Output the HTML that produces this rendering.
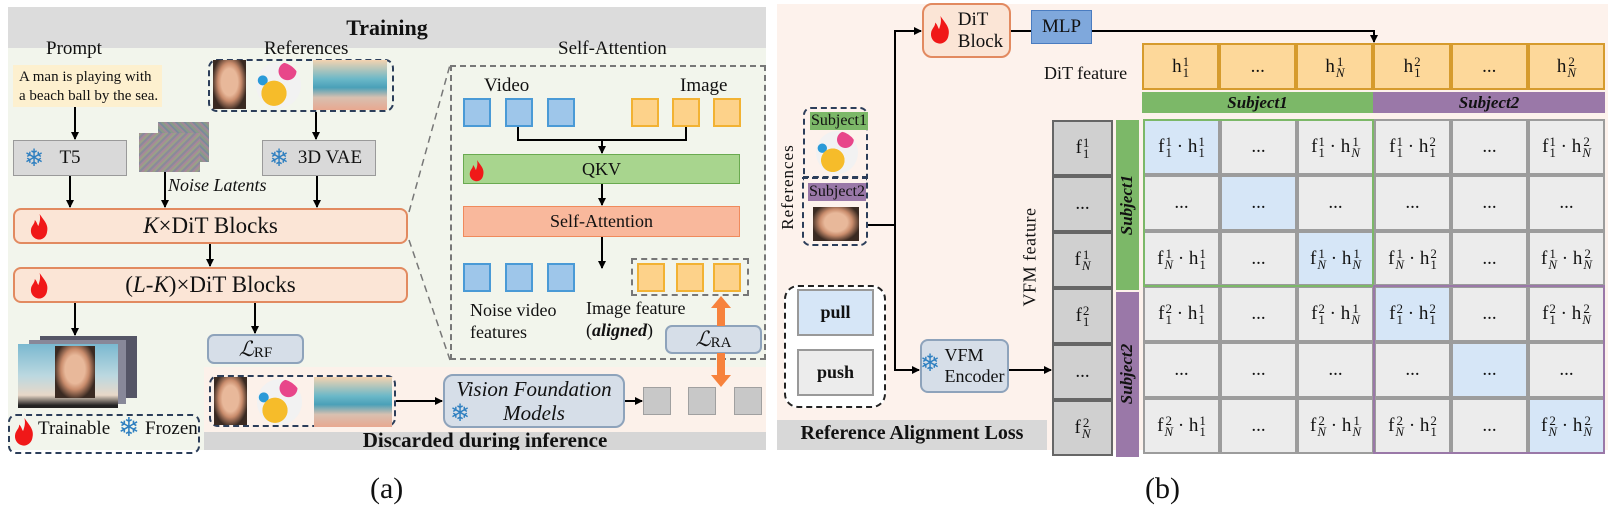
<!DOCTYPE html>
<html><head><meta charset="utf-8">
<style>
body{margin:0;width:1608px;height:518px;background:#fff;position:relative;overflow:hidden;font-family:"Liberation Serif",serif;color:#111}
.a{position:absolute;box-sizing:border-box}
.c{display:flex;align-items:center;justify-content:center;text-align:center}
.gb{background:#d9d9d9;border:1.5px solid #9a9a9a}
.dit{background:#fbe5d6;border:2px solid #e28a60;border-radius:8px}
.lb{background:#d6dee8;border:2px solid #8ea3bb;border-radius:7px}
.vb{background:#9ec6ea;border:2px solid #4a9ad6}
.yb{background:#fdd28a;border:2px solid #f2b233}
.gs{background:#c8c8c8;border:1.5px solid #a0a0a0}
.ix{display:inline-flex;flex-direction:column;font-size:13px;line-height:11px;vertical-align:middle;margin-left:1px}
.m{font-size:19px;white-space:nowrap}
.cell{background:#ececec;border:2px solid #9c9c9c}
.hl{background:#d6e6f7}
.face{background:radial-gradient(ellipse at 50% 45%,#e8b89a 0 35%,#c98c6c 50%,#3a2a22 75%);}
.ball{background:radial-gradient(circle at 40% 68%,#f6bc2a 0 30%,transparent 31%),radial-gradient(circle at 70% 20%,#e8468a 0 18%,transparent 19%),radial-gradient(circle at 15% 40%,#2a9ad8 0 10%,transparent 11%),#f2f2f2;border-radius:50%}
.beach{background:linear-gradient(180deg,#f4d3b0 0,#6bb8c8 38%,#4aa0b8 55%,#d8c0b0 75%,#e8a890 100%)}
.fl{color:#2e7fc0}
</style></head><body>
<!-- Panel (a) -->
<div class="a" style="left:8px;top:7px;width:758px;height:41px;background:#dcdcdc"></div>
<div class="a c" style="left:8px;top:7px;width:758px;height:41px;font-weight:bold;font-size:22px">Training</div>
<div class="a" style="left:8px;top:48px;width:758px;height:402px;background:#f2f5ec"></div>
<div class="a" style="left:204px;top:367px;width:562px;height:65px;background:#fcf1ea"></div>
<div class="a c" style="left:204px;top:432px;width:562px;height:18px;background:#d6d6d6;font-weight:bold;font-size:21px;align-items:flex-start;line-height:18px;overflow:hidden;height:18px"><span style="margin-top:-1px">Discarded during inference</span></div>

<div class="a" style="left:46px;top:38px;font-size:19px">Prompt</div>
<div class="a" style="left:13px;top:65px;width:149px;height:42px;background:#fdf0cf;font-size:15px;line-height:19px;padding:3px 0 0 6px;white-space:nowrap">A man is playing with<br>a beach ball by the sea.</div>
<div class="a gb c" style="left:13px;top:140px;width:114px;height:36px;font-size:19px"><span class="fl" style="position:absolute;left:10px;font-size:24px">❄</span>T5</div>
<div class="a" style="left:158px;top:122px;width:51px;height:40px;background:repeating-linear-gradient(45deg,#8a9a88 0 2px,#a08a98 2px 4px,#7a8a9a 4px 6px)"></div>
<div class="a" style="left:139px;top:133px;width:61px;height:39px;background:repeating-linear-gradient(-45deg,#8a8a9a 0 2px,#9aa088 2px 4px,#a8889a 4px 6px)"></div>
<div class="a" style="left:168px;top:175px;font-size:18px;font-style:italic">Noise Latents</div>
<div class="a" style="left:264px;top:38px;font-size:19px">References</div>
<div class="a" style="left:208px;top:59px;width:186px;height:53px;border:2.5px dashed #2c3e5a;border-radius:9px"></div>
<div class="a face" style="left:213px;top:60px;width:33px;height:49px"></div>
<div class="a ball" style="left:256px;top:62px;width:45px;height:46px"></div>
<div class="a beach" style="left:313px;top:60px;width:74px;height:50px"></div>
<div class="a gb c" style="left:262px;top:140px;width:114px;height:36px;font-size:19px"><span class="fl" style="position:absolute;left:6px;font-size:24px">❄</span><span style="margin-left:22px">3D VAE</span></div>

<div class="a dit c" style="left:13px;top:208px;width:395px;height:36px;font-size:23px"><i>K</i>×DiT Blocks</div>
<div class="a dit c" style="left:13px;top:267px;width:395px;height:36px;font-size:23px">(<i>L</i>-<i>K</i>)×DiT Blocks</div>
<div class="a lb c" style="left:207px;top:334px;width:97px;height:30px;font-size:21px"><i>ℒ</i><sub style="font-size:15px;margin-top:8px">RF</sub></div>

<div class="a" style="left:40px;top:336px;width:97px;height:62px;background:#556;"></div>
<div class="a" style="left:29px;top:340px;width:97px;height:64px;background:#889;"></div>
<div class="a" style="left:18px;top:344px;width:100px;height:64px;background:linear-gradient(180deg,#7ab8d0 0,#bcd8e0 50%,#e8d8c8 80%,#222 96%)"></div>
<div class="a face" style="left:55px;top:346px;width:40px;height:52px"></div>

<div class="a" style="left:8px;top:414px;width:192px;height:40px;border:2.5px dashed #2c3e5a;border-radius:8px"></div>
<div class="a" style="left:38px;top:418px;font-size:19px">Trainable</div>
<div class="a fl" style="left:118px;top:413px;font-size:26px">❄</div>
<div class="a" style="left:145px;top:418px;font-size:19px">Frozen</div>

<div class="a" style="left:558px;top:38px;font-size:19px">Self-Attention</div>
<div class="a" style="left:450px;top:65px;width:316px;height:295px;border:2px dashed #777"></div>
<div class="a" style="left:484px;top:75px;font-size:19px">Video</div>
<div class="a" style="left:680px;top:75px;font-size:19px">Image</div>
<div class="a vb" style="left:463px;top:98px;width:28px;height:29px"></div>
<div class="a vb" style="left:505px;top:98px;width:28px;height:29px"></div>
<div class="a vb" style="left:547px;top:98px;width:28px;height:29px"></div>
<div class="a yb" style="left:631px;top:98px;width:28px;height:29px"></div>
<div class="a yb" style="left:672px;top:98px;width:28px;height:29px"></div>
<div class="a yb" style="left:713px;top:98px;width:28px;height:29px"></div>
<div class="a c" style="left:463px;top:154px;width:277px;height:30px;background:#a8d58e;border:1.5px solid #6aaa50;font-size:18px">QKV</div>
<div class="a c" style="left:463px;top:206px;width:277px;height:31px;background:#f9b89c;border:1.5px solid #f08a5c;font-size:18px">Self-Attention</div>
<div class="a vb" style="left:463px;top:263px;width:28px;height:29px"></div>
<div class="a vb" style="left:505px;top:263px;width:28px;height:29px"></div>
<div class="a vb" style="left:547px;top:263px;width:28px;height:29px"></div>
<div class="a" style="left:631px;top:258px;width:118px;height:38px;border:2px dashed #777"></div>
<div class="a yb" style="left:637px;top:263px;width:28px;height:29px"></div>
<div class="a yb" style="left:676px;top:263px;width:28px;height:29px"></div>
<div class="a yb" style="left:713px;top:263px;width:28px;height:29px"></div>
<div class="a" style="left:470px;top:299px;font-size:18px;line-height:22px">Noise video<br>features</div>
<div class="a" style="left:586px;top:297px;font-size:18px;line-height:22px">Image feature<br>(<b><i>aligned</i></b>)</div>
<div class="a lb c" style="left:665px;top:325px;width:97px;height:29px;font-size:21px"><i>ℒ</i><sub style="font-size:15px;margin-top:8px">RA</sub></div>

<div class="a" style="left:209px;top:375px;width:187px;height:52px;border:2.5px dashed #2c3e5a;border-radius:9px"></div>
<div class="a face" style="left:214px;top:377px;width:33px;height:48px"></div>
<div class="a ball" style="left:257px;top:379px;width:45px;height:46px"></div>
<div class="a beach" style="left:314px;top:377px;width:78px;height:50px"></div>
<div class="a lb c" style="left:443px;top:374px;width:182px;height:54px;font-size:21px;font-style:italic;line-height:24px;border-radius:10px">Vision Foundation<br>Models</div>
<div class="a fl" style="left:450px;top:399px;font-size:24px">❄</div>
<div class="a gs" style="left:643px;top:387px;width:28px;height:28px"></div>
<div class="a gs" style="left:688px;top:387px;width:28px;height:28px"></div>
<div class="a gs" style="left:734px;top:387px;width:28px;height:28px"></div>

<!-- Panel (b) -->
<div class="a" style="left:777px;top:4px;width:831px;height:446px;background:#fdf2ec"></div>
<div class="a dit c" style="left:922px;top:3px;width:89px;height:55px;font-size:19px;line-height:22px;border-radius:10px"><span style="margin-left:28px;text-align:left">DiT<br>Block</span></div>
<div class="a c" style="left:1031px;top:10px;width:61px;height:34px;background:#7fa8dc;border:1.5px solid #4a7cc0;font-size:19px">MLP</div>
<div class="a" style="left:1044px;top:63px;font-size:18px">DiT feature</div>
<div class="a c" style="left:777px;top:420px;width:270px;height:30px;background:#d8d8d8;font-weight:bold;font-size:20px;align-items:flex-start;overflow:hidden"><span style="margin-top:2px">Reference Alignment Loss</span></div>

<div class="a" style="top:187px;transform:translate(-50%,-50%) rotate(-90deg);font-size:17px;left:788px;white-space:nowrap;letter-spacing:1px">References</div>
<div class="a" style="left:803px;top:107px;width:65px;height:71px;border:2px dashed #2c3e5a;border-radius:8px 8px 0 0"></div>
<div class="a" style="left:802px;top:177px;width:66px;height:69px;border:2px dashed #2c3e5a;border-radius:0 0 8px 8px"></div>
<div class="a c" style="left:810px;top:112px;width:58px;height:18px;background:#7cb868;font-size:16px">Subject1</div>
<div class="a ball" style="left:816px;top:131px;width:42px;height:43px"></div>
<div class="a c" style="left:808px;top:183px;width:58px;height:18px;background:#9a78a8;font-size:16px">Subject2</div>
<div class="a face" style="left:813px;top:207px;width:46px;height:34px"></div>

<div class="a" style="left:784px;top:285px;width:102px;height:123px;border:2.5px dashed #222;border-radius:14px;background:#fff"></div>
<div class="a c" style="left:797px;top:289px;width:77px;height:47px;background:#d6e6f7;border:2px solid #999;font-weight:bold;font-size:18px">pull</div>
<div class="a c" style="left:797px;top:349px;width:77px;height:47px;background:#ececec;border:2px solid #999;font-weight:bold;font-size:18px">push</div>
<div class="a lb c" style="left:920px;top:339px;width:89px;height:54px;font-size:18px;line-height:21px;border-radius:8px"><span style="margin-left:20px;text-align:left">VFM<br>Encoder</span></div>
<div class="a fl" style="left:920px;top:349px;font-size:24px">❄</div>

<div class="a" style="left:1030px;top:257px;transform:translate(-50%,-50%) rotate(-90deg);font-size:18px;white-space:nowrap;letter-spacing:0.5px">VFM feature</div>

<!-- DiT feature row -->
<div class="a" style="left:1142px;top:43px;width:463px;height:47px;display:grid;grid-template-columns:repeat(6,1fr)">
<div class="yb c m" style="background:#fdd89a;border-color:#d69b2d">h<span class="ix"><span>1</span><span>1</span></span></div>
<div class="yb c m" style="background:#fdd89a;border-color:#d69b2d">...</div>
<div class="yb c m" style="background:#fdd89a;border-color:#d69b2d">h<span class="ix"><span>1</span><i>N</i></span></div>
<div class="yb c m" style="background:#fdd89a;border-color:#d69b2d">h<span class="ix"><span>2</span><span>1</span></span></div>
<div class="yb c m" style="background:#fdd89a;border-color:#d69b2d">...</div>
<div class="yb c m" style="background:#fdd89a;border-color:#d69b2d">h<span class="ix"><span>2</span><i>N</i></span></div>
</div>
<div class="a c" style="left:1142px;top:92px;width:231px;height:21px;background:#7cb868;font-weight:bold;font-style:italic;font-size:17px">Subject1</div>
<div class="a c" style="left:1373px;top:92px;width:232px;height:21px;background:#9a78a8;font-weight:bold;font-style:italic;font-size:17px">Subject2</div>
<div class="a" style="left:1116px;top:120px;width:23px;height:170px;background:#7cb868"></div>
<div class="a" style="left:1116px;top:292px;width:23px;height:165px;background:#9a78a8"></div>
<div class="a" style="left:1127px;top:205px;transform:translate(-50%,-50%) rotate(-90deg);font-weight:bold;font-style:italic;font-size:17px">Subject1</div>
<div class="a" style="left:1127px;top:374px;transform:translate(-50%,-50%) rotate(-90deg);font-weight:bold;font-style:italic;font-size:17px">Subject2</div>

<!-- VFM column -->
<div class="a" style="left:1052px;top:120px;width:61px;height:336px;display:grid;grid-template-rows:repeat(6,1fr)">
<div class="c m" style="background:#d0d0d0;border:2.5px solid #666">f<span class="ix"><span>1</span><span>1</span></span></div>
<div class="c m" style="background:#d0d0d0;border:2.5px solid #666">...</div>
<div class="c m" style="background:#d0d0d0;border:2.5px solid #666">f<span class="ix"><span>1</span><i>N</i></span></div>
<div class="c m" style="background:#d0d0d0;border:2.5px solid #666">f<span class="ix"><span>2</span><span>1</span></span></div>
<div class="c m" style="background:#d0d0d0;border:2.5px solid #666">...</div>
<div class="c m" style="background:#d0d0d0;border:2.5px solid #666">f<span class="ix"><span>2</span><i>N</i></span></div>
</div>

<!-- matrix -->
<div class="a" style="left:1143px;top:119px;width:462px;height:335px;display:grid;grid-template-columns:repeat(6,1fr);grid-template-rows:repeat(6,1fr)">
<div class="cell c m hl">f<span class="ix"><span>1</span><span>1</span></span>&nbsp;· h<span class="ix"><span>1</span><span>1</span></span></div>
<div class="cell c m">...</div>
<div class="cell c m">f<span class="ix"><span>1</span><span>1</span></span>&nbsp;· h<span class="ix"><span>1</span><i>N</i></span></div>
<div class="cell c m">f<span class="ix"><span>1</span><span>1</span></span>&nbsp;· h<span class="ix"><span>2</span><span>1</span></span></div>
<div class="cell c m">...</div>
<div class="cell c m">f<span class="ix"><span>1</span><span>1</span></span>&nbsp;· h<span class="ix"><span>2</span><i>N</i></span></div>

<div class="cell c m">...</div>
<div class="cell c m hl">...</div>
<div class="cell c m">...</div>
<div class="cell c m">...</div>
<div class="cell c m">...</div>
<div class="cell c m">...</div>

<div class="cell c m">f<span class="ix"><span>1</span><i>N</i></span>&nbsp;· h<span class="ix"><span>1</span><span>1</span></span></div>
<div class="cell c m">...</div>
<div class="cell c m hl">f<span class="ix"><span>1</span><i>N</i></span>&nbsp;· h<span class="ix"><span>1</span><i>N</i></span></div>
<div class="cell c m">f<span class="ix"><span>1</span><i>N</i></span>&nbsp;· h<span class="ix"><span>2</span><span>1</span></span></div>
<div class="cell c m">...</div>
<div class="cell c m">f<span class="ix"><span>1</span><i>N</i></span>&nbsp;· h<span class="ix"><span>2</span><i>N</i></span></div>

<div class="cell c m">f<span class="ix"><span>2</span><span>1</span></span>&nbsp;· h<span class="ix"><span>1</span><span>1</span></span></div>
<div class="cell c m">...</div>
<div class="cell c m">f<span class="ix"><span>2</span><span>1</span></span>&nbsp;· h<span class="ix"><span>1</span><i>N</i></span></div>
<div class="cell c m hl">f<span class="ix"><span>2</span><span>1</span></span>&nbsp;· h<span class="ix"><span>2</span><span>1</span></span></div>
<div class="cell c m">...</div>
<div class="cell c m">f<span class="ix"><span>2</span><span>1</span></span>&nbsp;· h<span class="ix"><span>2</span><i>N</i></span></div>

<div class="cell c m">...</div>
<div class="cell c m">...</div>
<div class="cell c m">...</div>
<div class="cell c m">...</div>
<div class="cell c m hl">...</div>
<div class="cell c m">...</div>

<div class="cell c m">f<span class="ix"><span>2</span><i>N</i></span>&nbsp;· h<span class="ix"><span>1</span><span>1</span></span></div>
<div class="cell c m">...</div>
<div class="cell c m">f<span class="ix"><span>2</span><i>N</i></span>&nbsp;· h<span class="ix"><span>1</span><i>N</i></span></div>
<div class="cell c m">f<span class="ix"><span>2</span><i>N</i></span>&nbsp;· h<span class="ix"><span>2</span><span>1</span></span></div>
<div class="cell c m">...</div>
<div class="cell c m hl">f<span class="ix"><span>2</span><i>N</i></span>&nbsp;· h<span class="ix"><span>2</span><i>N</i></span></div>
</div>
<div class="a" style="left:1143px;top:119px;width:231px;height:168px;border:2.5px solid #7cb868"></div>
<div class="a" style="left:1373px;top:285px;width:232px;height:169px;border:2.5px solid #9a78a8"></div>

<div class="a" style="left:370px;top:472px;font-size:30px">(a)</div>
<div class="a" style="left:1145px;top:472px;font-size:30px">(b)</div>

<svg class="a" style="left:0;top:0" width="1608" height="518" viewBox="0 0 1608 518">
<defs>
<marker id="ar" markerWidth="8" markerHeight="8" refX="7" refY="4" orient="auto" markerUnits="userSpaceOnUse"><path d="M0,0 L8,4 L0,8 z" fill="#000"/></marker>
<g id="fire"><path d="M8,0 C12,6 16,9 14,16 C13,20 9,22 6,21 C2,20 0,16 1,12 C2,9 4,8 4,5 C6,7 6,9 7,10 C8,7 9,4 8,0 z" fill="#f01818"/></g>
</defs>
<g stroke="#000" stroke-width="2" fill="none" marker-end="url(#ar)">
<line x1="75" y1="107" x2="75" y2="139"/>
<line x1="316" y1="112" x2="316" y2="139"/>
<line x1="70" y1="176" x2="70" y2="207"/>
<line x1="165" y1="172" x2="165" y2="207"/>
<line x1="317" y1="176" x2="317" y2="207"/>
<line x1="210" y1="244" x2="210" y2="266"/>
<line x1="75" y1="303" x2="75" y2="335"/>
<line x1="255" y1="303" x2="255" y2="333"/>
<line x1="602" y1="140" x2="602" y2="153"/>
<line x1="602" y1="184" x2="602" y2="205"/>
<line x1="602" y1="237" x2="602" y2="268"/>
<line x1="396" y1="401" x2="442" y2="401"/>
<line x1="625" y1="401" x2="642" y2="401"/>
<polyline points="895,225 895,31 921,31"/>
<polyline points="895,225 895,370 919,370"/>
<polyline points="1092,31 1374,31 1374,42"/>
<line x1="1009" y1="370" x2="1051" y2="370"/>
</g>
<g stroke="#000" stroke-width="2" fill="none">
<polyline points="518,127 518,140 686,140 686,127"/>
<line x1="868" y1="225" x2="895" y2="225"/>
<line x1="1011" y1="31" x2="1031" y2="31"/>
</g>
<g stroke="#777" stroke-width="1.5" stroke-dasharray="7,5" fill="none">
<line x1="409" y1="212" x2="450" y2="65"/>
<line x1="409" y1="240" x2="450" y2="360"/>
</g>
<g fill="#f7823c">
<rect x="717" y="306" width="8" height="20"/>
<path d="M721,296 L731,308 L711,308 z"/>
<rect x="717" y="353" width="8" height="24"/>
<path d="M721,387 L731,375 L711,375 z"/>
</g>
<use href="#fire" transform="translate(30,214) scale(1.2)"/>
<use href="#fire" transform="translate(30,273) scale(1.2)"/>
<use href="#fire" transform="translate(14,418) scale(1.3)"/>
<use href="#fire" transform="translate(469,160) scale(1.0)"/>
<use href="#fire" transform="translate(930,16) scale(1.3)"/>
</svg>
</body></html>
